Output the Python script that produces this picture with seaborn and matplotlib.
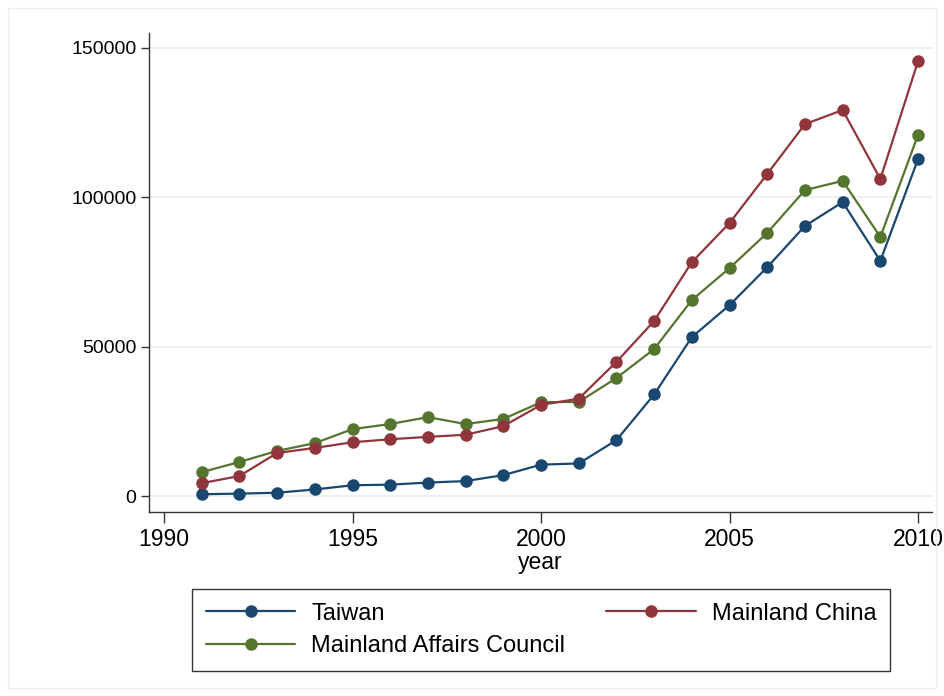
import numpy as np
import pandas as pd
import matplotlib
matplotlib.use("Agg")
import matplotlib.pyplot as plt
import seaborn as sns
from matplotlib.patches import Rectangle

# Datos
years = list(range(1991, 2011))
taiwan = [600, 800, 1100, 2200, 3600, 3800, 4500, 5000, 7000, 10500,
          10900, 18700, 34000, 53200, 63900, 76600, 90400, 98400, 78700, 112800]
mainland_china = [4300, 6700, 14400, 16100, 18000, 19000, 19800, 20500, 23400, 30500,
                  32600, 44900, 58600, 78300, 91400, 107800, 124500, 129200, 106100, 145600]
mac = [8000, 11400, 15100, 17700, 22400, 24100, 26400, 24100, 25800, 31400,
       31500, 39500, 49200, 65600, 76300, 88100, 102400, 105500, 86700, 120900]

series_names = ["Taiwan", "Mainland Affairs Council", "Mainland China"]
colores = {"Taiwan": "#1a476f", "Mainland China": "#90353b",
           "Mainland Affairs Council": "#55752f"}

df = pd.DataFrame({
    "year": years * 3,
    "value": taiwan + mac + mainland_china,
    "serie": ["Taiwan"] * 20 + ["Mainland Affairs Council"] * 20 + ["Mainland China"] * 20,
})

sns.set_style("white")
plt.rcParams["font.family"] = ["Liberation Sans", "DejaVu Sans"]
plt.rcParams["text.color"] = "black"
plt.rcParams["xtick.color"] = "black"
plt.rcParams["ytick.color"] = "black"
plt.rcParams["axes.labelcolor"] = "black"

fig = plt.figure(figsize=(9.44, 6.96), dpi=100)
ax = fig.add_axes([0.1578, 0.2648, 0.8295, 0.6878])

# dibujar en orden: Taiwan, MAC, China (China arriba como en la original)
for nombre in series_names:
    sub = df[df["serie"] == nombre]
    sns.lineplot(data=sub, x="year", y="value", color=colores[nombre], marker="o",
                 markersize=9, markeredgewidth=0, linewidth=1.6, label=nombre, ax=ax,
                 legend=False)

ax.set_xlim(1989.6, 2010.37)
ax.set_ylim(-5250, 155000)
ax.set_xticks([1990, 1995, 2000, 2005, 2010])
ax.set_yticks([0, 50000, 100000, 150000])
ax.set_yticklabels(["0", "50000", "100000", "150000"])
ax.grid(axis="y", color="#eaf2f3", linewidth=1.5)
ax.set_axisbelow(True)
for s in ["top", "right"]:
    ax.spines[s].set_visible(False)
for s in ["left", "bottom"]:
    ax.spines[s].set_color("#333333")
    ax.spines[s].set_linewidth(1.0)
ax.tick_params(axis="y", direction="out", length=6, width=1, color="#333333",
               labelsize=14, pad=3, left=True)
ax.tick_params(axis="x", direction="out", length=8, width=1, color="#333333",
               labelsize=16.5, pad=4, bottom=True)
ax.set_xlabel("year", fontsize=16.5, labelpad=0)
ax.set_ylabel("")

handles, labels = ax.get_legend_handles_labels()
leg = fig.legend(handles, labels,
                 loc="upper left", bbox_to_anchor=(192 / 944, 0, 698 / 944, 107 / 696),
                 mode="expand", ncol=2, fontsize=17, frameon=True, fancybox=False,
                 edgecolor="black", handlelength=3.8, borderaxespad=0, borderpad=0.58,
                 labelspacing=0.45, handletextpad=0.68, columnspacing=1.6)
leg.get_frame().set_linewidth(1.0)

fig.patches.append(Rectangle((8 / 944, 8 / 696), 1 - 16 / 944, 1 - 16 / 696,
                             transform=fig.transFigure, fill=False,
                             edgecolor="#eeeeee", linewidth=1))

fig.savefig("out.png", dpi=100)
